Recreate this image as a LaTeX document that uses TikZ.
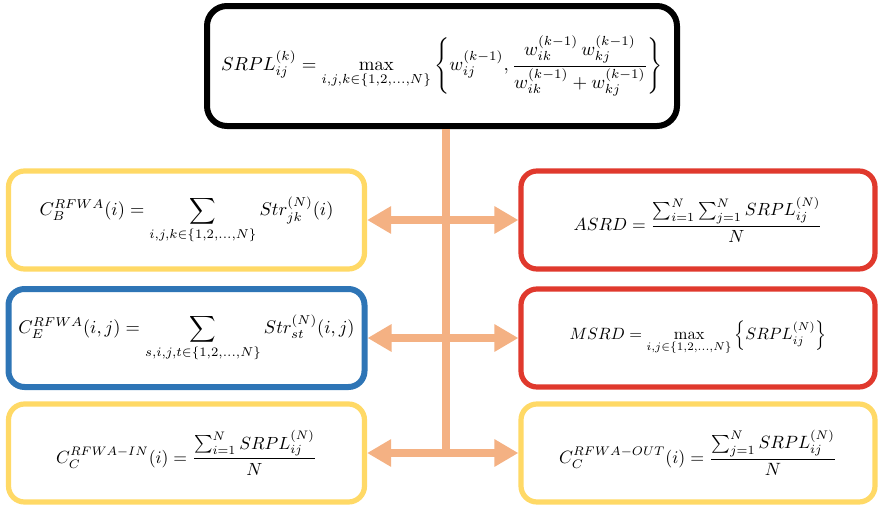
\documentclass[tikz,border=0pt]{standalone}
\usepackage{amsmath}
\usepackage{graphicx}
\usetikzlibrary{arrows.meta}
\definecolor{linkorange}{HTML}{F4B183}
\definecolor{boxyellow}{HTML}{FFD966}
\definecolor{boxblue}{HTML}{2E75B6}
\definecolor{boxred}{HTML}{E0392D}
% a display formula shrunk by a given factor
\newcommand{\fml}[2]{\scalebox{#1}{$\displaystyle #2$}}
\tikzset{
  formbox/.style={draw, line width=2.6pt, rounded corners=8pt, fill=white,
    minimum width=178pt, minimum height=49pt, inner sep=0pt, align=center},
  link/.style={draw=linkorange, line width=4pt},
  linktip/.style={-{Triangle[length=12pt,width=13pt]}}
}
\begin{document}
\begin{tikzpicture}[x=0.5pt,y=-0.5pt]
  \useasboundingbox (0,0) rectangle (879,509);

  % central recursion formula
  \node[formbox, draw=black, line width=3pt, rounded corners=10pt,
        minimum width=235pt, minimum height=60pt] (top) at (442,66)
    {\fml{0.94}{SRPL_{ij}^{(k)} = \max_{i,j,k\in\{1,2,\dots,N\}}
      \left\{ w_{ij}^{(k-1)}, \frac{w_{ik}^{(k-1)}\,w_{kj}^{(k-1)}}{w_{ik}^{(k-1)} + w_{kj}^{(k-1)}} \right\}}};

  % left column
  \node[formbox, draw=boxyellow] (cb) at (186.5,220)
    {\fml{0.92}{C_B^{RFWA}(i) = \sum_{i,j,k\in\{1,2,\dots,N\}} Str_{jk}^{(N)}(i)}};
  \node[formbox, draw=boxblue, line width=3pt] (ce) at (186.5,338)
    {\fml{0.92}{C_E^{RFWA}(i,j) = \sum_{s,i,j,t\in\{1,2,\dots,N\}} Str_{st}^{(N)}(i,j)}};
  \node[formbox, draw=boxyellow] (cin) at (186.5,453)
    {\fml{0.88}{C_C^{RFWA-IN}(i) = \frac{\sum_{i=1}^{N} SRPL_{ij}^{(N)}}{N}}};

  % right column
  \node[formbox, draw=boxred, minimum width=177pt] (asrd) at (698,220)
    {\fml{0.88}{ASRD = \frac{\sum_{i=1}^{N}\sum_{j=1}^{N} SRPL_{ij}^{(N)}}{N}}};
  \node[formbox, draw=boxred, minimum width=177pt] (msrd) at (698,338)
    {\fml{0.82}{MSRD = \max_{i,j\in\{1,2,\dots,N\}} \left\{ SRPL_{ij}^{(N)} \right\}}};
  \node[formbox, draw=boxyellow, minimum width=177pt] (cout) at (698,453)
    {\fml{0.89}{C_C^{RFWA-OUT}(i) = \frac{\sum_{j=1}^{N} SRPL_{ij}^{(N)}}{N}}};

  % connectors
  \coordinate (spine) at (446,453);
  \draw[link] (top.south -| spine) -- (spine);
  \draw[link, linktip] (cb.east -| spine) -- (cb.east);
  \draw[link, linktip] (cb.east -| spine) -- (asrd.west);
  \draw[link, linktip] (ce.east -| spine) -- (ce.east);
  \draw[link, linktip] (ce.east -| spine) -- (msrd.west);
  \draw[link, linktip] (spine) -- (cin.east);
  \draw[link, linktip] (spine) -- (cout.west);
\end{tikzpicture}
\end{document}
